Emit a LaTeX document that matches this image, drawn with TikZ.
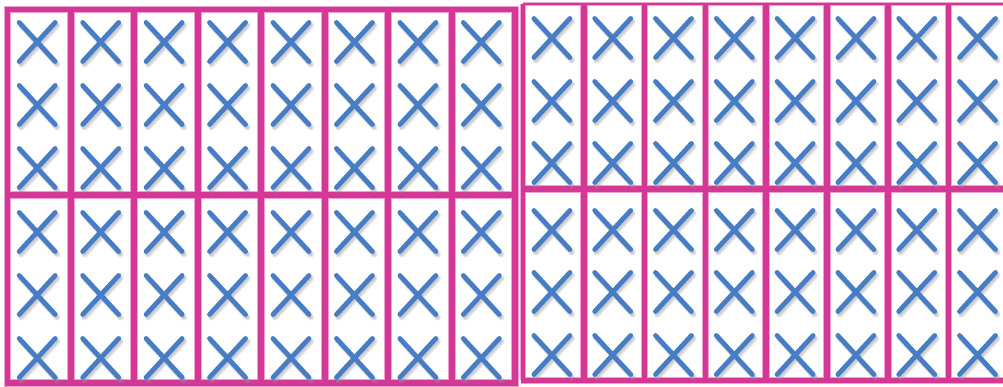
\documentclass[tikz,border=0pt]{standalone}
\definecolor{mag}{RGB}{212,55,150}
\definecolor{magl}{RGB}{238,160,206}
\definecolor{xblue}{RGB}{70,125,196}
\definecolor{shadowc}{RGB}{150,150,160}
\tikzset{
  gridsoft/.style={draw=magl, line width=#1+2pt},
  gridline/.style={draw=mag, line width=#1},
  xmark/.pic={
    \draw[shadowc, line width=6pt, opacity=0.25, line cap=round] (-16,-16.5) -- (20,22.5) (20,-16.5) -- (-16,22.5);
    \draw[shadowc, line width=4pt, opacity=0.3, line cap=round] (-16.5,-17) -- (19.5,22) (19.5,-17) -- (-16.5,22);
    \draw[xblue, line width=4.8pt, line cap=round] (-18,-19.5) -- (18,19.5) (18,-19.5) -- (-18,19.5);
  }
}
\begin{document}
\begin{tikzpicture}[x=1pt,y=-1pt]
\useasboundingbox[fill=white] (0,0) rectangle (1003,387);
% ---------- left panel ----------
\begin{scope}
\foreach \w in {gridsoft, gridline}{
  \draw[\w=5.5pt] (7.5,9.5) rectangle (515,383);
  \draw[\w=6pt] (7.5,195) -- (515,195);
  \foreach \i in {1,...,7}
    \draw[\w=6pt] ({7.5+63.44*\i},9.5) -- ({7.5+63.44*\i},383);
}
\foreach \i in {0,...,7}
  \foreach \y in {42,105,168,232,295,358}
    \pic at ({7.5+63.44*\i+31.72-2},\y) {xmark};
\end{scope}
% ---------- right panel ----------
\begin{scope}
\clip (0,0) rectangle (1003,387);
\foreach \w in {gridsoft, gridline}{
  \draw[\w=2pt] (522.5,4.5) -- (1010,4.5);
  \draw[\w=3.5pt] (523,4.5) -- (523,380);
  \draw[\w=5pt] (521,380) -- (1010,380);
  \draw[\w=6pt] (523,189.5) -- (1010,189.5);
  \foreach \i in {1,...,8}
    \draw[\w=5.5pt] ({523+60.8*\i},4.5) -- ({523+60.8*\i},380);
}
\foreach \i in {0,...,7}
  \foreach \y in {38,101,163,230,292,355}
    \pic at ({523+60.8*\i+30.4-1.5},\y) {xmark};
\end{scope}
\end{tikzpicture}
\end{document}
